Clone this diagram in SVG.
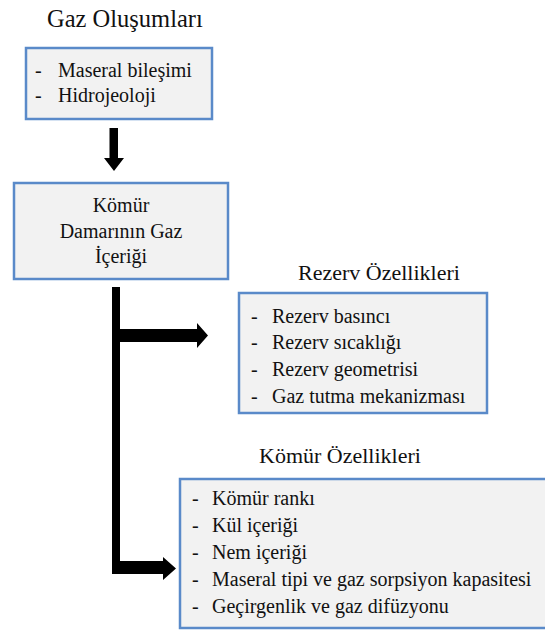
<svg xmlns="http://www.w3.org/2000/svg" width="545" height="631" viewBox="0 0 545 631">
<style>
.box{fill:#f2f2f2;stroke:#5a8ac9;stroke-width:2.5}
.t{font-size:20px}
.h{font-size:22px}
.c{text-anchor:middle}
.arrow{fill:#000}
</style>
<rect width="545" height="631" fill="#fff"/>
<g font-family="'Liberation Serif', 'Times New Roman', Tinos, 'DejaVu Serif', serif" fill="#111">
<g id="title-gaz">
<text x="47" y="27" font-size="24.5">Gaz Oluşumları</text>
</g>
<g id="node-gaz-olusumlari">
<rect class="box" x="26" y="48" width="186" height="71"/>
<text class="t" x="35" y="77">-</text><text class="t" x="58" y="77">Maseral bileşimi</text>
<text class="t" x="35" y="102">-</text><text class="t" x="58" y="102">Hidrojeoloji</text>
</g>
<g id="node-komur-damari">
<rect class="box" x="14" y="183" width="214" height="96"/>
<text class="t c" x="121" y="212">Kömür</text>
<text class="t c" x="121" y="238">Damarının Gaz</text>
<text class="t c" x="121" y="263">İçeriği</text>
</g>
<g id="title-rezerv">
<text class="h" x="298" y="280">Rezerv Özellikleri</text>
</g>
<g id="node-rezerv">
<rect class="box" x="239" y="293" width="248" height="120"/>
<text class="t" x="251" y="323">-</text><text class="t" x="272" y="323">Rezerv basıncı</text>
<text class="t" x="251" y="349">-</text><text class="t" x="272" y="349">Rezerv sıcaklığı</text>
<text class="t" x="251" y="376">-</text><text class="t" x="272" y="376">Rezerv geometrisi</text>
<text class="t" x="251" y="403">-</text><text class="t" x="272" y="403">Gaz tutma mekanizması</text>
</g>
<g id="title-komur">
<text class="h" x="259" y="463">Kömür Özellikleri</text>
</g>
<g id="node-komur">
<rect class="box" x="180" y="479" width="372" height="149"/>
<text class="t" x="192" y="505">-</text><text class="t" x="212" y="505">Kömür rankı</text>
<text class="t" x="192" y="532">-</text><text class="t" x="212" y="532">Kül içeriği</text>
<text class="t" x="192" y="559">-</text><text class="t" x="212" y="559">Nem içeriği</text>
<text class="t" x="192" y="586">-</text><text class="t" x="212" y="586">Maseral tipi ve gaz sorpsiyon kapasitesi</text>
<text class="t" x="192" y="613">-</text><text class="t" x="212" y="613">Geçirgenlik ve gaz difüzyonu</text>
</g>
</g>
<g id="connectors">
<polygon class="arrow" points="109.5,128 118,128 118,158 124,158 114,171 104,158 109.5,158"/>
<rect class="arrow" x="112" y="287" width="8" height="287"/>
<polygon class="arrow" points="120,329 197,329 197,323 208,335.5 197,348 197,342 120,342"/>
<polygon class="arrow" points="112,561 163,561 163,557 176,568.5 163,580 163,574 112,574"/>
</g>
</svg>
